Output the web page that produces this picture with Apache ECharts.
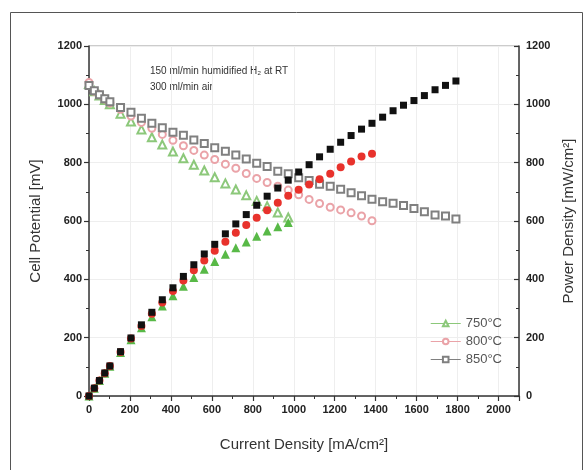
<!DOCTYPE html>
<html>
<head>
<meta charset="utf-8">
<script src="https://cdn.jsdelivr.net/npm/echarts@6/dist/echarts.min.js"></script>
<style>
  html, body { margin: 0; padding: 0; background: #fff; }
  #main { width: 587px; height: 470px; }
</style>
</head>
<body>
<div id="main"></div>
<script>
// current density [mA/cm2], shared by all three temperatures
var current = [0, 26, 51, 77, 102, 154, 205, 256, 307, 358, 410, 461, 512, 563, 614, 666, 717, 768, 819,
    870, 922, 973, 1024, 1075, 1126, 1178, 1229, 1280, 1331, 1382, 1434, 1485, 1536, 1587, 1638, 1690, 1741, 1792];

// cell potential [mV]
var v750 = [1070, 1045, 1030, 1015, 1000, 968, 941, 914, 887, 862, 838, 815, 793, 773, 750, 729, 708, 688, 669, 651, 629, 612];
var v800 = [1075, 1045, 1033, 1018, 1005, 983, 960, 938, 918, 897, 877, 858, 842, 826, 811, 795, 781, 763, 746, 732,
    719, 706, 690, 674, 660, 647, 638, 628, 617, 601];
var v850 = [1065, 1047, 1033, 1019, 1009, 989, 973, 952, 935, 920, 904, 894, 878, 866, 851, 839, 826, 813, 798, 787,
    771, 762, 748, 739, 726, 719, 709, 697, 687, 675, 666, 661, 653, 643, 632, 621, 617, 607];

// power density [mW/cm2]
var p750 = [0, 27, 53, 78, 102, 149, 193, 234, 272, 309, 344, 376, 406, 435, 461, 486, 508, 528, 548, 566, 580, 595];
var p800 = [0, 27, 53, 78, 103, 151, 197, 240, 282, 321, 360, 396, 431, 465, 498, 529, 560, 586, 611, 637,
    663, 687, 707, 725, 743, 762, 784, 804, 821, 831];
var p850 = [0, 27, 53, 79, 103, 152, 199, 244, 287, 330, 371, 410, 450, 487, 520, 556, 590, 622, 654, 685,
    713, 740, 768, 793, 820, 846, 870, 893, 915, 935, 956, 978, 997, 1013, 1030, 1050, 1065, 1080];

var names = ['750°C', '800°C', '850°C'];

function pairs(vals) {
    var out = [];
    for (var i = 0; i < vals.length; i++) {
        out.push([current[i], vals[i]]);
    }
    return out;
}

var FONT = 'Liberation Sans';
var plainLabel = function (v) { return String(v); };

function valueAxis(pos, name, inside) {
    return {
        type: 'value',
        position: pos,
        min: 0,
        max: 1200,
        interval: 200,
        name: name,
        nameLocation: 'middle',
        nameGap: pos == 'left' ? 46 : 40,
        nameRotate: 90,
        nameTextStyle: { fontFamily: FONT, fontSize: 15, color: '#333' },
        axisLine: { show: true, lineStyle: { color: '#333', width: 1.5 } },
        axisTick: { show: true, inside: inside, length: 5, lineStyle: { color: '#333', width: 1.2 } },
        minorTick: { show: true, splitNumber: 2, length: 3, lineStyle: { color: '#333' } },
        axisLabel: { fontFamily: FONT, fontSize: 11, fontWeight: 'bold', color: '#222', margin: 7, formatter: plainLabel },
        splitLine: { show: pos == 'left', lineStyle: { color: '#eeeeee', width: 1 } }
    };
}

var myChart = echarts.init(document.getElementById('main'));

function vSeries(name, data, symbol, size, color) {
    return {
        name: name,
        type: 'line',
        yAxisIndex: 0,
        data: pairs(data),
        symbol: symbol,
        symbolSize: size,
        showSymbol: true,
        silent: true,
        animation: false,
        itemStyle: { color: color, borderWidth: 1 },
        lineStyle: { color: color, opacity: 0 },
        z: 2
    };
}

function pSeries(name, data, symbol, size, color) {
    return {
        name: name,
        type: 'line',
        yAxisIndex: 1,
        data: pairs(data),
        symbol: symbol,
        symbolSize: size,
        silent: true,
        animation: false,
        itemStyle: { color: color },
        lineStyle: { opacity: 0 },
        z: 3
    };
}

var option = {
    backgroundColor: '#fff',
    animation: false,
    grid: { left: 89, right: 68, top: 46, bottom: 74 },
    legend: {
        data: names,
        right: 80,
        top: 312,
        orient: 'vertical',
        itemWidth: 30,
        itemHeight: 7,
        itemGap: 5,
        textStyle: { fontFamily: FONT, fontSize: 13, color: '#555' },
        lineStyle: { width: 1, opacity: 1 }
    },
    xAxis: {
        type: 'value',
        min: 0,
        max: 2100,
        interval: 200,
        name: 'Current Density [mA/cm²]',
        nameLocation: 'middle',
        nameGap: 41,
        nameTextStyle: { fontFamily: FONT, fontSize: 15, color: '#333' },
        axisLine: { show: true, lineStyle: { color: '#333', width: 1.5 } },
        axisTick: { show: true, length: 5, lineStyle: { color: '#333', width: 1.2 } },
        minorTick: { show: true, splitNumber: 2, length: 3, lineStyle: { color: '#333' } },
        axisLabel: { fontFamily: FONT, fontSize: 11, fontWeight: 'bold', color: '#222', margin: 8, showMaxLabel: false, formatter: plainLabel },
        splitLine: { show: true, lineStyle: { color: '#eeeeee', width: 1 } }
    },
    yAxis: [
        valueAxis('left', 'Cell Potential [mV]', false),
        valueAxis('right', 'Power Density [mW/cm²]', true)
    ],
    graphic: [
        {
            type: 'rect',
            shape: { x: 10.5, y: 12.5, width: 572, height: 470 },
            style: { fill: 'none', stroke: '#555', lineWidth: 1 },
            silent: true
        },
        {
            type: 'line',
            shape: { x1: 89, y1: 46, x2: 519, y2: 46 },
            style: { stroke: '#999', lineWidth: 1 },
            silent: true
        },
        {
            type: 'text',
            left: 150,
            top: 66,
            style: { text: '150 ml/min humidified H₂ at RT', font: '10px "Liberation Sans"', fill: '#333' }
        },
        {
            type: 'text',
            left: 150,
            top: 82,
            style: { text: '300 ml/min air', font: '10px "Liberation Sans"', fill: '#333' }
        }
    ],
    series: [
        vSeries(names[0], v750, 'emptyTriangle', 8, '#8cc87a'),
        vSeries(names[1], v800, 'emptyCircle', 7, '#eaa3a8'),
        vSeries(names[2], v850, 'emptyRect', 7, '#808080'),
        pSeries('750°C P', p750, 'triangle', 9, '#58b947'),
        pSeries('800°C P', p800, 'circle', 8, '#e8322c'),
        pSeries('850°C P', p850, 'rect', 7, '#111111')
    ]
};

myChart.setOption(option);
</script>
</body>
</html>
